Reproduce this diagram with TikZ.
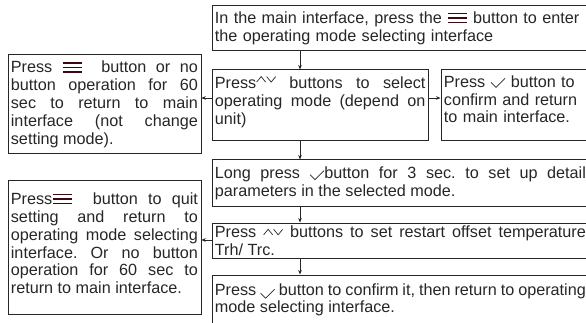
\documentclass[tikz,border=0pt]{standalone}
\usepackage{fontspec}
\setmainfont{Liberation Sans}
\usetikzlibrary{arrows.meta}
\definecolor{ink}{HTML}{262626}
\definecolor{keyred}{HTML}{3A0A12}

\newcommand{\menukey}{\tikz[x=1pt,y=1pt,baseline=-1pt]{\foreach \k in {0,4.5,9} \draw[keyred,line width=1.4pt] (0,\k) -- (19,\k);}}
\newcommand{\updownkey}{\tikz[x=1pt,y=1pt,baseline=0pt]{\draw[ink,line width=0.7pt] (0,2.5) -- (4.5,8) -- (9,2.5) (10,8) -- (14.5,2.5) -- (19,8);}}
\newcommand{\checkkey}{\tikz[x=1pt,y=1pt,baseline=0pt]{\draw[ink,line width=0.7pt] (0,5) -- (5,0) -- (14,9);}}

\begin{document}
\frenchspacing
\begin{tikzpicture}[x=1pt,y=-1pt,>={Stealth[length=4.5pt,width=3.5pt]}]
\tikzstyle{stepbox}=[draw=ink, line width=0.8pt, anchor=north west, inner xsep=3pt, inner ysep=2pt, align=justify, text=ink, font=\fontsize{16.2}{17.8}\selectfont]
\tikzstyle{link}=[draw=ink, line width=0.6pt, ->]
    \useasboundingbox (0,0) rectangle (586,323);
    \clip (0,0) rectangle (586,323);

    \node[stepbox, text width=371pt, minimum height=45pt, align=left] (enter) at (211.5,5.5)
        {In the main interface, press the \menukey{} button to enter\\the operating mode selecting interface};
    \node[stepbox, text width=187pt, minimum height=99pt] (back) at (7.5,54.5)
        {Press \menukey{}\ \ button or no\linebreak button operation for 60\linebreak sec to return to main\linebreak interface (not change\linebreak setting mode).};
    \node[stepbox, text width=210.5pt, minimum height=71pt] (select) at (211.5,69.5)
        {Press\raisebox{4pt}{\updownkey} buttons to select\linebreak operating mode (depend on\linebreak unit)\par\vspace{7pt}};
    \node[stepbox, text width=143pt, minimum height=71pt, align=left] (confirm) at (440.5,69.5)
        {Press \checkkey{} button to\\confirm and return\\to main interface.\par\vspace{12pt}};
    \node[stepbox, text width=371pt, minimum height=47pt] (detail) at (211.5,159.5)
        {Long press \raisebox{-1pt}{\checkkey}button for 3 sec. to set up detail\linebreak parameters in the selected mode.};
    \node[stepbox, text width=187pt, minimum height=133pt] (quit) at (7.5,180.5)
        {Press\menukey{}\ \ button to quit\linebreak setting and return to\linebreak operating mode selecting\linebreak interface. Or no button\linebreak operation for 60 sec to\linebreak return to main interface.\par\vspace{8pt}};
    \node[stepbox, text width=371pt, minimum height=35pt] (offset) at (211.5,222.5)
        {Press \updownkey{} buttons to set restart offset temperature\linebreak Trh/ Trc.};
    \node[stepbox, text width=371pt, minimum height=50pt] (done) at (211.5,274.5)
        {Press \raisebox{-3pt}{\checkkey} button to confirm it, then return to operating\linebreak mode selecting interface.};

    \coordinate (spine) at (300,0);
    \coordinate (row1) at (0,98);
    \coordinate (row2) at (0,240);

    \draw[link] (enter.south -| spine) -- (select.north -| spine);
    \draw[link] (select.south -| spine) -- (detail.north -| spine);
    \draw[link] (detail.south -| spine) -- (offset.north -| spine);
    \draw[link] (offset.south -| spine) -- (done.north -| spine);

    \draw[link] (select.west |- row1) -- (back.east |- row1);
    \draw[link] (select.east |- row1) -- (confirm.west |- row1);
    \draw[link] (offset.west |- row2) -- (quit.east |- row2);

\end{tikzpicture}
\end{document}
